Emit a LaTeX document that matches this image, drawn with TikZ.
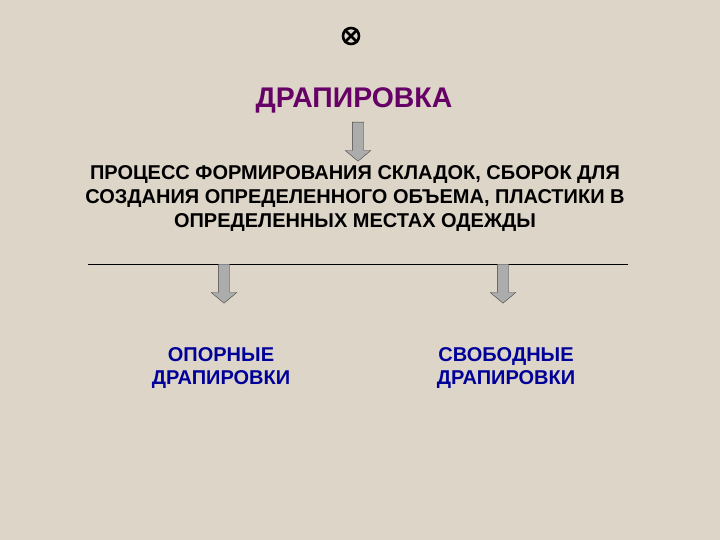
\documentclass[tikz,border=0pt]{standalone}
\usepackage{fontspec}
\setmainfont{Liberation Sans}
\usetikzlibrary{positioning,shapes.arrows}
\definecolor{paper}{RGB}{221,214,200}
\definecolor{plum}{RGB}{102,0,102}
\definecolor{ink}{RGB}{0,0,153}

\begin{document}
\begin{tikzpicture}[x=1pt,y=-1pt,
   txt/.style={font=\bfseries\fontsize{20}{24}\selectfont, align=center, inner sep=0pt},
   kind/.style={txt, text=ink, font=\bfseries\fontsize{20}{23.5}\selectfont},
   blk/.style={single arrow, draw=black!75, fill=gray!65, rotate=-90,
               minimum height=39pt, minimum width=25pt,
               single arrow head extend=7pt, single arrow tip angle=100,
               inner xsep=0pt, inner ysep=5.5pt}]
   \fill[paper] (0,0) rectangle (720,540);

   \node[circle, draw, line width=2.6pt, minimum size=16pt, inner sep=0pt] (mark) at (351,36) {};
   \draw[line width=2.6pt] (mark.north west) -- (mark.south east)
                           (mark.north east) -- (mark.south west);

   \node[txt, text=plum, font=\bfseries\fontsize{28.4}{30}\selectfont] (title) at (354,100) {ДРАПИРОВКА};
   \node[txt] (def) at (355,199) {ПРОЦЕСС ФОРМИРОВАНИЯ СКЛАДОК, СБОРОК ДЛЯ\\
      СОЗДАНИЯ ОПРЕДЕЛЕННОГО ОБЪЕМА, ПЛАСТИКИ В\\
      ОПРЕДЕЛЕННЫХ МЕСТАХ ОДЕЖДЫ};

   \coordinate (bar1) at (88,264);
   \coordinate (bar2) at (628,264);
   \draw (bar1) -- (bar2);

   \node[blk, anchor=tail] (a0) at (358,122) {};
   \node[blk, anchor=tail] (a1) at (224,264) {};
   \node[blk, anchor=tail] (a2) at (503,264) {};

   \node[kind] (left)  at (221,368) {ОПОРНЫЕ\\ДРАПИРОВКИ};
   \node[kind] (right) at (506,368) {СВОБОДНЫЕ\\ДРАПИРОВКИ};
\end{tikzpicture}
\end{document}
